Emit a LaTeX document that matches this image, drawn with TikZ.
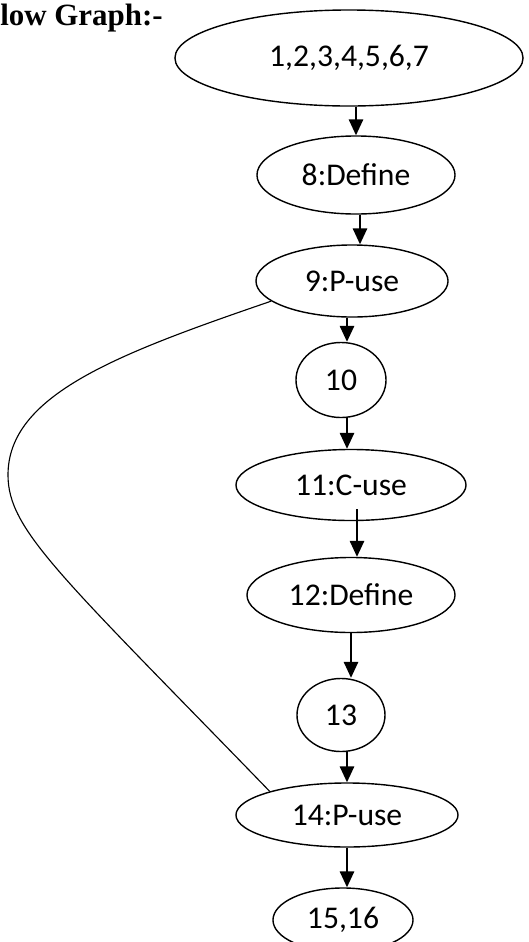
\documentclass[tikz,border=0pt]{standalone}
\usepackage{fontspec}
\setmainfont{Carlito}
\newfontfamily\headfont{Liberation Serif}
\usetikzlibrary{shapes.geometric, arrows.meta}

\begin{document}
\begin{tikzpicture}[x=0.025cm, y=-0.025cm,
  blk/.style={ellipse, draw, line width=1pt, inner sep=0pt, font=\fontsize{22.5}{26}\selectfont},
  flow/.style={line width=1.3pt, -{Triangle[length=4mm, width=3.6mm]}},
  back/.style={line width=0.8pt}]
 \useasboundingbox (0,0) rectangle (528,942);
 \node[anchor=base west, inner sep=0pt, font=\headfont\bfseries\fontsize{22}{26}\selectfont] (T) at (0,25) {low Graph:-};
 \node[blk, minimum width=8.7cm, minimum height=2.4cm] (N1) at (349,58) {1,2,3,4,5,6,7};
 \node[blk, minimum width=4.95cm, minimum height=1.95cm] (N8) at (356,175) {8:Define};
 \node[blk, minimum width=4.8cm, minimum height=1.8cm] (N9) at (352,281) {9:P-use};
 \node[blk, minimum width=2.25cm, minimum height=1.875cm] (N10) at (341,380) {10};
 \node[blk, minimum width=5.75cm, minimum height=1.775cm] (N11) at (351,485) {11:C-use};
 \node[blk, minimum width=5.2cm, minimum height=1.875cm] (N12) at (351,595) {12:Define};
 \node[blk, minimum width=2.2cm, minimum height=1.825cm] (N13) at (341,715) {13};
 \node[blk, minimum width=5.55cm, minimum height=1.6cm] (N14) at (347,815) {14:P-use};
 \node[blk, minimum width=3.5cm, minimum height=1.6cm] (N15) at (343,920) {15,16};
 \draw[flow] (N1.south -| N8) -- (N8);
 \draw[flow] ([xshift=0.1cm]N8.south) -- ([xshift=0.1cm]N8.south |- N9.north);
 \draw[flow] ([xshift=0.15cm]N9.south -| N10) -- ([xshift=0.15cm]N10.north);
 \draw[flow] ([xshift=0.15cm]N10.south) -- ([xshift=0.15cm]N11.north -| N10);
 \draw[flow] ([xshift=0.15cm, yshift=0.3cm]N11.south) -- ([xshift=0.15cm]N12.north);
 \draw[flow] (N12.south) -- (N13.north -| N12);
 \draw[flow] ([xshift=0.15cm]N13.south) -- ([xshift=0.15cm]N14.north -| N13);
 \draw[flow] (N14.south) -- (N15.north -| N14);
 % loop back from 14 to 9
 \draw[back] (N9.194) .. controls (117,354) and (8,395) .. (8,475)
   .. controls (8,530) and (60,575) .. (N14.163);
\end{tikzpicture}
\end{document}
